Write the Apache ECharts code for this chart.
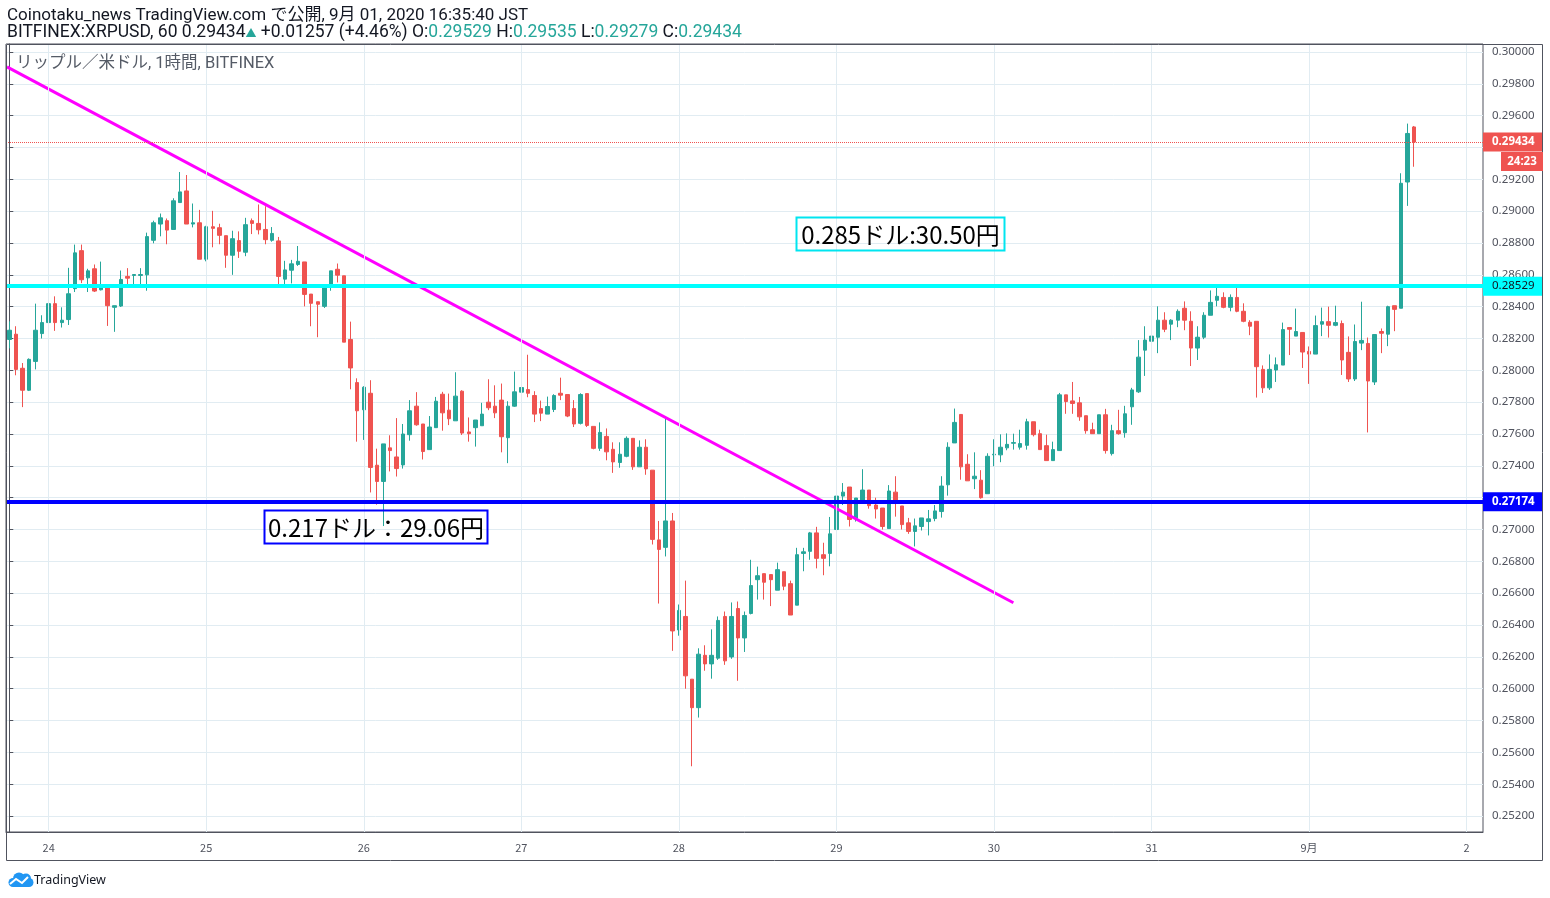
<!DOCTYPE html>
<html><head><meta charset="utf-8">
<script src="https://cdn.jsdelivr.net/npm/echarts@6/dist/echarts.min.js"></script>
<style>html,body{margin:0;padding:0;background:#fff}#c{width:1550px;height:898px}</style>
</head><body><div id="c"></div>
<script>
// ---- data (XRPUSD 1h, BITFINEX), first candle Aug 23 18:00 JST ----
const opens = [0.28194,0.28227,0.28013,0.27875,0.28056,0.28231,0.28300,0.28419,0.28300,0.28319,
0.28513,0.28752,0.28581,0.28638,0.28506,0.28527,0.28396,0.28404,0.28590,0.28596,
0.28596,0.28600,0.28817,0.28919,0.28940,0.28885,0.29054,0.29127,0.28919,0.28927,
0.28698,0.28902,0.28896,0.28846,0.28723,0.28815,0.28742,0.28940,0.28923,0.28885,
0.28817,0.28813,0.28573,0.28629,0.28665,0.28681,0.28479,0.28431,0.28402,0.28542,
0.28635,0.28594,0.28194,0.27923,0.27752,0.27856,0.27404,0.27302,0.27513,0.27456,
0.27406,0.27596,0.27775,0.27663,0.27502,0.27640,0.27850,0.27750,0.27683,0.27869,
0.27613,0.27640,0.27652,0.27800,0.27775,0.27813,0.27577,0.27775,0.27863,0.27879,
0.27842,0.27760,0.27725,0.27754,0.27856,0.27848,0.27760,0.27667,0.27854,0.27648,
0.27510,0.27585,0.27504,0.27421,0.27460,0.27573,0.27394,0.27517,0.27373,0.26935,
0.26888,0.27054,0.26369,0.26454,0.26060,0.25881,0.26210,0.26156,0.26192,0.26454,
0.26200,0.26504,0.26319,0.26473,0.26685,0.26723,0.26717,0.26619,0.26735,0.26660,
0.26525,0.26850,0.26863,0.26979,0.26842,0.26850,0.27000,0.27210,0.27267,0.27069,
0.27179,0.27248,0.27154,0.27135,0.27006,0.27235,0.27148,0.27042,0.26988,0.27019,
0.27050,0.27069,0.27113,0.27281,0.27544,0.27723,0.27410,0.27319,0.27310,0.27225,
0.27469,0.27469,0.27513,0.27542,0.27517,0.27529,0.27677,0.27602,0.27527,0.27433,
0.27496,0.27846,0.27808,0.27796,0.27715,0.27627,0.27602,0.27721,0.27477,0.27621,
0.27608,0.27771,0.27865,0.28127,0.28183,0.28208,0.28315,0.28290,0.28315,0.28390,
0.28308,0.28140,0.28208,0.28346,0.28440,0.28458,0.28396,0.28458,0.28371,0.28302,
0.28308,0.28006,0.27890,0.28002,0.28033,0.28269,0.28215,0.28238,0.28119,0.28102,
0.28290,0.28306,0.28283,0.28294,0.28113,0.27946,0.28171,0.28169,0.27927,0.28244,
0.28227,0.28406,0.28390,0.29183,0.29529];
const closes = [0.28252,0.28006,0.27875,0.28069,0.28252,0.28300,0.28419,0.28300,0.28315,0.28481,
0.28738,0.28569,0.28625,0.28498,0.28519,0.28406,0.28406,0.28571,0.28579,0.28602,
0.28602,0.28840,0.28927,0.28958,0.28881,0.29065,0.29121,0.28919,0.28927,0.28698,
0.28902,0.28892,0.28848,0.28723,0.28827,0.28748,0.28915,0.28923,0.28883,0.28821,
0.28860,0.28590,0.28631,0.28669,0.28685,0.28477,0.28421,0.28415,0.28531,0.28625,
0.28598,0.28177,0.28015,0.27746,0.27894,0.27390,0.27302,0.27538,0.27496,0.27383,
0.27600,0.27746,0.27658,0.27490,0.27644,0.27806,0.27733,0.27696,0.27838,0.27606,
0.27602,0.27688,0.27725,0.27765,0.27733,0.27583,0.27775,0.27865,0.27892,0.27856,
0.27725,0.27731,0.27773,0.27842,0.27844,0.27713,0.27663,0.27848,0.27654,0.27510,
0.27610,0.27488,0.27425,0.27473,0.27573,0.27394,0.27517,0.27381,0.26938,0.26875,
0.27054,0.26363,0.26492,0.26081,0.25881,0.26217,0.26156,0.26210,0.26429,0.26175,
0.26454,0.26319,0.26460,0.26648,0.26710,0.26669,0.26685,0.26748,0.26644,0.26463,
0.26842,0.26860,0.26979,0.26819,0.26819,0.26973,0.27210,0.27235,0.27063,0.27198,
0.27248,0.27150,0.27129,0.27019,0.27242,0.27175,0.27031,0.26988,0.27023,0.27073,
0.27067,0.27117,0.27273,0.27517,0.27673,0.27394,0.27306,0.27335,0.27200,0.27460,
0.27473,0.27517,0.27535,0.27546,0.27540,0.27677,0.27596,0.27502,0.27433,0.27502,
0.27846,0.27804,0.27792,0.27708,0.27621,0.27602,0.27721,0.27496,0.27621,0.27602,
0.27727,0.27877,0.28083,0.28190,0.28215,0.28315,0.28258,0.28315,0.28371,0.28315,
0.28140,0.28208,0.28346,0.28427,0.28465,0.28396,0.28458,0.28371,0.28308,0.28277,
0.28023,0.27890,0.28006,0.28035,0.28256,0.28258,0.28244,0.28115,0.28102,0.28281,
0.28306,0.28283,0.28300,0.28065,0.27946,0.28181,0.28188,0.27933,0.28225,0.28233,
0.28400,0.28383,0.29175,0.29488,0.29434];
const lows = [0.28138,0.27969,0.27769,0.27870,0.28006,0.28200,0.28269,0.28248,0.28269,0.28285,
0.28492,0.28548,0.28492,0.28492,0.28502,0.28279,0.28242,0.28398,0.28529,0.28527,
0.28523,0.28500,0.28798,0.28842,0.28792,0.28885,0.29054,0.28919,0.28898,0.28698,
0.28685,0.28773,0.28792,0.28644,0.28600,0.28706,0.28717,0.28856,0.28854,0.28792,
0.28808,0.28542,0.28542,0.28546,0.28656,0.28402,0.28277,0.28208,0.28392,0.28500,
0.28552,0.28177,0.27881,0.27552,0.27563,0.27233,0.27156,0.27022,0.27365,0.27333,
0.27383,0.27558,0.27652,0.27440,0.27502,0.27640,0.27621,0.27656,0.27683,0.27594,
0.27552,0.27521,0.27652,0.27750,0.27700,0.27485,0.27417,0.27771,0.27800,0.27831,
0.27675,0.27681,0.27725,0.27738,0.27813,0.27706,0.27644,0.27660,0.27644,0.27504,
0.27494,0.27435,0.27356,0.27388,0.27454,0.27375,0.27394,0.27344,0.26906,0.26535,
0.26831,0.26238,0.26333,0.26000,0.25513,0.25819,0.26113,0.26063,0.26181,0.26150,
0.26188,0.26050,0.26231,0.26467,0.26560,0.26560,0.26519,0.26619,0.26619,0.26463,
0.26525,0.26738,0.26810,0.26756,0.26713,0.26769,0.26994,0.27154,0.27019,0.27050,
0.27179,0.27131,0.27069,0.27000,0.27006,0.27081,0.27000,0.26973,0.26894,0.26994,
0.26963,0.27052,0.27075,0.27213,0.27544,0.27313,0.27306,0.27254,0.27194,0.27225,
0.27398,0.27423,0.27498,0.27502,0.27502,0.27502,0.27585,0.27502,0.27433,0.27433,
0.27496,0.27727,0.27727,0.27683,0.27602,0.27602,0.27602,0.27477,0.27465,0.27596,
0.27577,0.27658,0.27858,0.27965,0.28102,0.28108,0.28240,0.28190,0.28271,0.28252,
0.28027,0.28065,0.28196,0.28346,0.28402,0.28390,0.28371,0.28365,0.28302,0.28221,
0.27829,0.27858,0.27877,0.27927,0.28033,0.28096,0.28215,0.28015,0.27915,0.28102,
0.28215,0.28206,0.28277,0.27971,0.27927,0.27933,0.28127,0.27610,0.27908,0.28108,
0.28152,0.28246,0.28390,0.29033,0.29279];
const highs = [0.28308,0.28277,0.28046,0.28075,0.28419,0.28346,0.28444,0.28465,0.28396,0.28644,
0.28790,0.28790,0.28638,0.28665,0.28683,0.28533,0.28406,0.28627,0.28642,0.28602,
0.28642,0.28865,0.28940,0.28985,0.28954,0.29081,0.29246,0.29227,0.29048,0.29008,
0.28908,0.29002,0.28921,0.28846,0.28877,0.28873,0.28958,0.28954,0.29042,0.29031,
0.28900,0.28838,0.28688,0.28694,0.28781,0.28681,0.28479,0.28431,0.28542,0.28625,
0.28671,0.28594,0.28306,0.27950,0.27900,0.27938,0.27508,0.27538,0.27592,0.27700,
0.27663,0.27813,0.27863,0.27663,0.27713,0.27833,0.27865,0.27854,0.27988,0.27875,
0.27704,0.27688,0.27796,0.27944,0.27906,0.27917,0.27806,0.27992,0.27948,0.28098,
0.27869,0.27810,0.27835,0.27850,0.27954,0.27848,0.27813,0.27856,0.27854,0.27648,
0.27673,0.27635,0.27548,0.27548,0.27585,0.27573,0.27560,0.27567,0.27373,0.27054,
0.27702,0.27104,0.26529,0.26679,0.26060,0.26254,0.26273,0.26373,0.26454,0.26485,
0.26542,0.26548,0.26485,0.26810,0.26767,0.26723,0.26717,0.26792,0.26735,0.26679,
0.26885,0.26885,0.26985,0.27017,0.26917,0.27079,0.27210,0.27292,0.27267,0.27198,
0.27379,0.27248,0.27200,0.27135,0.27279,0.27335,0.27148,0.27073,0.27069,0.27073,
0.27123,0.27154,0.27335,0.27548,0.27760,0.27723,0.27473,0.27485,0.27373,0.27479,
0.27567,0.27598,0.27604,0.27602,0.27627,0.27696,0.27677,0.27627,0.27596,0.27552,
0.27858,0.27846,0.27927,0.27833,0.27715,0.27671,0.27721,0.27758,0.27658,0.27752,
0.27777,0.27890,0.28190,0.28277,0.28371,0.28402,0.28365,0.28321,0.28383,0.28433,
0.28371,0.28277,0.28365,0.28502,0.28533,0.28490,0.28477,0.28533,0.28421,0.28315,
0.28308,0.28031,0.28100,0.28081,0.28300,0.28269,0.28388,0.28238,0.28150,0.28344,
0.28394,0.28400,0.28406,0.28313,0.28213,0.28288,0.28431,0.28206,0.28225,0.28263,
0.28406,0.28406,0.29238,0.29550,0.29535];

const dayTickLabels = ['24','25','26','27','28','29','30','31','9月','2'];
const resistanceLevel = 0.28529;   // cyan
const supportLevel = 0.27174;      // blue
// trend line: [hour index, price]
const trendLine = [[-0.35, 0.29906], [152.96, 0.26540]];
const changeText = '+0.01257 (+4.46%)';
const countdownText = '24:23';

// ---- categories: hourly slots ----
const startTime = Date.UTC(2020, 7, 23, 18);
const slotCount = 225;
const categories = [];
const midnightIdx = [];
for (let i = 0; i < slotCount; i++) {
  const d = new Date(startTime + i * 3600000);
  const s = (d.getUTCMonth()+1) + '/' + d.getUTCDate() + ' ' + d.getUTCHours() + ':00';
  categories.push(s);
  if (d.getUTCHours() === 0) midnightIdx.push(i);
}
const labelMap = {};
midnightIdx.forEach((idx, k) => { labelMap[categories[idx]] = dayTickLabels[k] || ''; });
const isMid = (idx) => midnightIdx.indexOf(idx) >= 0;

const candleData = opens.map((o, i) => [o, closes[i], lows[i], highs[i]]);
const last = candleData.length - 1;
const lastClose = closes[last];
const f5 = v => v.toFixed(5);

const AX = '#50535e', GRID = '#e1ecf2', UP = '#26a69a', DOWN = '#ef5350';
const FONT = 'Roboto,"Noto Sans CJK JP",sans-serif';
const CJK = '"Noto Sans CJK JP","Noto Sans",sans-serif';
const tagLabel = (txt, bg, fg, bold) => ({show: true, position: 'end', distance: 0, formatter: txt,
  color: fg, fontWeight: bold ? 'bold' : 'normal', fontSize: 11.5, lineHeight: 13,
  fontFamily: '"Noto Sans",sans-serif', backgroundColor: bg, padding: [3, 5, 3, 9], width: 46});

const chart = echarts.init(document.getElementById('c'), null, {renderer: 'canvas'});
chart.setOption({
  animation: false,
  backgroundColor: '#ffffff',
  grid: {left: 6, right: 67, top: 44, bottom: 66, show: true, borderColor: AX, borderWidth: 1},
  xAxis: [{
    type: 'category', data: categories, boundaryGap: true,
    axisLine: {lineStyle: {color: AX}},
    axisTick: {alignWithLabel: true, interval: isMid, length: 4, lineStyle: {color: AX}},
    axisLabel: {interval: isMid, formatter: v => labelMap[v] || '', color: AX, fontSize: 11, margin: 10, fontFamily: CJK},
    splitLine: {show: false}
  }, {
    type: 'value', min: -0.5, max: slotCount - 0.5, show: false
  }],
  yAxis: {
    type: 'value', position: 'right', min: 0.251, max: 0.3005, scale: true,
    splitNumber: 25, minInterval: 0.002, maxInterval: 0.002,
    axisLine: {show: true, lineStyle: {color: AX}},
    axisTick: {show: true, length: 4, lineStyle: {color: AX}},
    axisLabel: {showMinLabel: false, showMaxLabel: false, margin: 9, color: AX, fontSize: 11.5,
      fontFamily: '"Noto Sans",sans-serif', formatter: v => f5(v)},
    splitLine: {show: true, lineStyle: {color: GRID, width: 1}}
  },
  series: [
    {
      type: 'line', data: [], z: 1, silent: true,
      markLine: {silent: true, symbol: 'none', animation: false, label: {show: false},
        lineStyle: {color: GRID, width: 1, type: 'solid'},
        data: midnightIdx.map(i => ({xAxis: categories[i]}))}
    },
    {
      type: 'candlestick', data: candleData, z: 3, barWidth: 4,
      itemStyle: {color: UP, color0: DOWN, borderColor: UP, borderColor0: DOWN, borderWidth: 1}
    },
    {
      type: 'line', xAxisIndex: 1, data: trendLine, z: 4, symbol: 'none', silent: true,
      lineStyle: {color: '#ff00ff', width: 3}
    },
    {
      type: 'line', data: [], z: 5, silent: true,
      markLine: {silent: true, symbol: 'none', animation: false, precision: 5,
        data: [
          {yAxis: lastClose, lineStyle: {color: DOWN, width: 1, type: 'dotted'},
           label: tagLabel(f5(lastClose), DOWN, '#fff', true)},
          {yAxis: resistanceLevel, lineStyle: {color: '#00ffff', width: 4, type: 'solid'},
           label: tagLabel(f5(resistanceLevel), '#00ffff', '#131722', false)},
          {yAxis: supportLevel, lineStyle: {color: '#0000ff', width: 4, type: 'solid'},
           label: tagLabel(f5(supportLevel), '#0000ff', '#fff', true)}
        ]}
    }
  ],
  graphic: [
    {type: 'rect', z: 50, silent: true, shape: {x: 6.5, y: 44.5, width: 1536, height: 816},
     style: {fill: 'none', stroke: AX, lineWidth: 1}},
    {type: 'text', z: 50, x: 7, y: 16, style: {text: 'Coinotaku_news TradingView.com で公開, 9月 01, 2020 16:35:40 JST',
      font: '17px ' + FONT, fill: '#131722', verticalAlign: 'middle'}},
    {type: 'text', z: 50, x: 7, y: 33, style: {
      text: 'BITFINEX:XRPUSD, 60 ' + f5(lastClose) + '{t|▲} ' + changeText +
        ' O:{g|' + f5(opens[last]) + '} H:{g|' + f5(highs[last]) + '} L:{g|' + f5(lows[last]) + '} C:{g|' + f5(closes[last]) + '}',
      font: '17.5px ' + FONT, fill: '#131722', verticalAlign: 'middle',
      rich: {g: {fill: UP, font: '17.5px ' + FONT}, t: {fill: UP, font: '11px ' + CJK}}}},
    {type: 'text', z: 50, x: 16, y: 64, style: {text: 'リップル／米ドル, 1時間, BITFINEX',
      font: '16.5px ' + FONT, fill: '#555b66', verticalAlign: 'middle'}},
    // annotation boxes
    {type: 'rect', z: 60, silent: true, shape: {x: 796.5, y: 217.5, width: 208, height: 33},
     style: {fill: 'none', stroke: '#00e5f0', lineWidth: 2}},
    {type: 'text', z: 60, x: 900.5, y: 234.5, style: {text: '0.285ドル:30.50円',
      font: '24px ' + CJK, fill: '#000', align: 'center', verticalAlign: 'middle'}},
    {type: 'rect', z: 60, silent: true, shape: {x: 264.5, y: 510.5, width: 223, height: 33},
     style: {fill: 'none', stroke: '#0000ff', lineWidth: 2}},
    {type: 'text', z: 60, x: 376, y: 527.5, style: {text: '0.217ドル：29.06円',
      font: '24px ' + CJK, fill: '#000', align: 'center', verticalAlign: 'middle'}},
    // countdown tag
    {type: 'rect', z: 60, silent: true, shape: {x: 1501, y: 152, width: 42, height: 19}, style: {fill: DOWN}},
    {type: 'text', z: 61, x: 1522, y: 161.5, style: {text: countdownText, font: 'bold 11.5px "Noto Sans",sans-serif',
      fill: '#fff', align: 'center', verticalAlign: 'middle'}},
    // TradingView logo (simplified cloud)
    {type: 'group', x: 7, y: 871, children: [
      {type: 'circle', z: 60, shape: {cx: 6, cy: 11.5, r: 4.5}, style: {fill: '#2196f3'}},
      {type: 'circle', z: 60, shape: {cx: 12, cy: 7.5, r: 6}, style: {fill: '#2196f3'}},
      {type: 'circle', z: 60, shape: {cx: 19, cy: 7.5, r: 5}, style: {fill: '#2196f3'}},
      {type: 'circle', z: 60, shape: {cx: 22, cy: 11.5, r: 4.5}, style: {fill: '#2196f3'}},
      {type: 'rect', z: 60, shape: {x: 6, y: 9, width: 16, height: 7}, style: {fill: '#2196f3'}},
      {type: 'polyline', z: 61, shape: {points: [[3, 13], [9, 8], [15, 12], [21, 6]]},
        style: {stroke: '#fff', lineWidth: 2, fill: 'none'}}
    ]},
    {type: 'text', z: 60, x: 34, y: 880, style: {text: 'TradingView', font: '12.5px "Noto Sans",sans-serif',
      fill: '#131722', verticalAlign: 'middle'}}
  ]
});
</script>
</body></html>
